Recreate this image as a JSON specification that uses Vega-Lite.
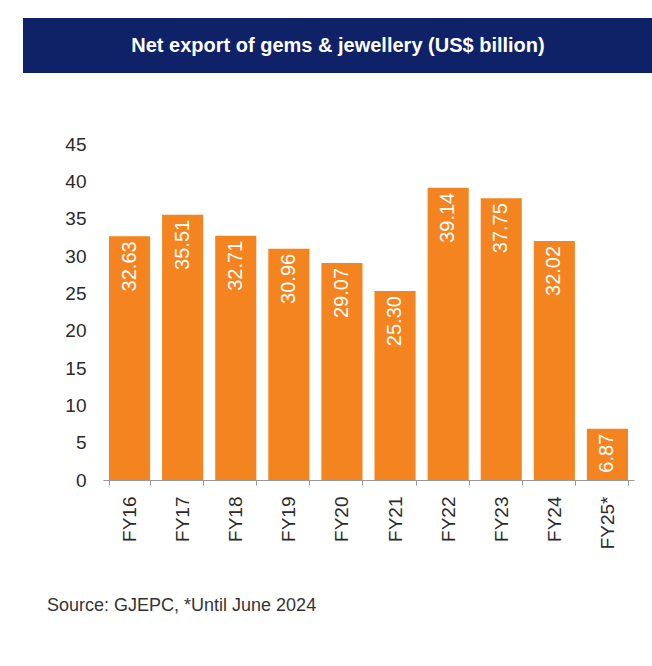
{
  "$schema": "https://vega.github.io/schema/vega-lite/v6.json",
  "background": "white",
  "padding": {"left": 14, "top": 18, "right": 0, "bottom": 0},
  "spacing": 62,
  "config": {
    "view": {"stroke": null},
    "font": "Liberation Sans",
    "axis": {"labelFont": "Liberation Sans", "labelColor": "#2b2b2b", "labelFontSize": 19, "title": null, "grid": false}
  },
  "vconcat": [
    {
      "width": 630,
      "height": 55,
      "view": {"fill": "#0f2167", "stroke": null},
      "data": {"values": [{"heading": "Net export of gems & jewellery (US$ billion)"}]},
      "mark": {"type": "text", "color": "white", "font": "Liberation Sans", "fontWeight": "bold", "fontSize": 20},
      "encoding": {"text": {"field": "heading"}}
    },
    {
      "width": 630,
      "height": 336,
      "title": {
        "text": "Source: GJEPC, *Until June 2024",
        "orient": "bottom",
        "anchor": "start",
        "frame": "bounds",
        "font": "Liberation Sans",
        "fontSize": 18,
        "fontWeight": "normal",
        "color": "#333333",
        "offset": 48,
        "dx": 33
      },
      "data": {
        "values": [
          {"year": "FY16", "value": 32.63},
          {"year": "FY17", "value": 35.51},
          {"year": "FY18", "value": 32.71},
          {"year": "FY19", "value": 30.96},
          {"year": "FY20", "value": 29.07},
          {"year": "FY21", "value": 25.30},
          {"year": "FY22", "value": 39.14},
          {"year": "FY23", "value": 37.75},
          {"year": "FY24", "value": 32.02},
          {"year": "FY25*", "value": 6.87}
        ]
      },
      "encoding": {
        "x": {
          "field": "year",
          "type": "nominal",
          "sort": null,
          "scale": {"range": [80, 611], "paddingInner": 0.226, "paddingOuter": 0.113},
          "axis": {
            "labelAngle": -90,
            "labelPadding": 11,
            "tickSize": 5,
            "tickBand": "extent",
            "domainColor": "#999999",
            "tickColor": "#999999"
          }
        },
        "y": {
          "field": "value",
          "type": "quantitative",
          "scale": {"domain": [0, 45], "nice": false},
          "axis": {
            "values": [0, 5, 10, 15, 20, 25, 30, 35, 40, 45],
            "domain": false,
            "ticks": false,
            "tickSize": 0,
            "labelPadding": 17,
            "offset": -80
          }
        }
      },
      "layer": [
        {"mark": {"type": "bar", "color": "#f3841f"}},
        {
          "mark": {"type": "text", "angle": 270, "align": "right", "baseline": "middle", "dx": -5, "color": "white", "fontSize": 20, "font": "Liberation Sans"},
          "encoding": {"text": {"field": "value", "type": "quantitative", "format": ".2f"}}
        }
      ]
    }
  ]
}
